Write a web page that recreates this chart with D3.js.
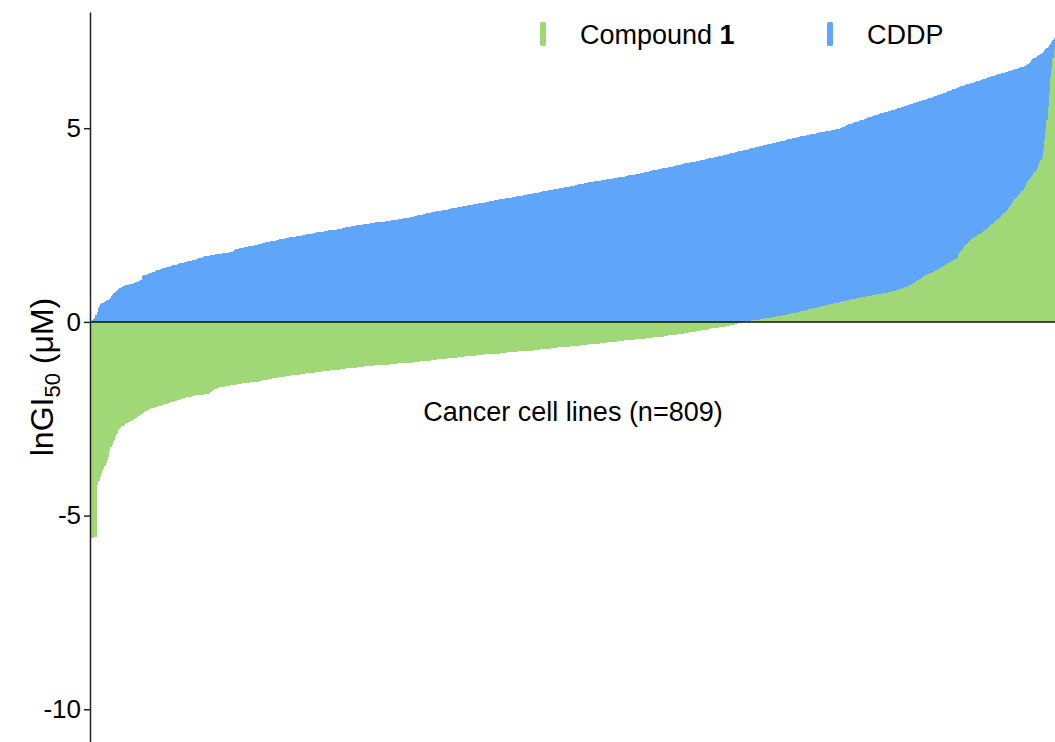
<!DOCTYPE html>
<html>
<head>
<meta charset="utf-8">
<script src="https://cdn.jsdelivr.net/npm/d3@7"></script>
<style>
  html, body { margin: 0; padding: 0; background: #ffffff; }
  svg { display: block; font-family: "Liberation Sans", Arial, Helvetica, sans-serif; }
</style>
</head>
<body>
<svg id="chart" width="1055" height="742"></svg>
<script>
// lnGI50 values (µM) across 809 cancer cell lines, each series sorted ascending
const cddpValues = [
  0.02, 0.03, 0.05, 0.07, 0.11, 0.18, 0.26, 0.35, 0.42, 0.46,
  0.48, 0.50, 0.52, 0.54, 0.55, 0.57, 0.59, 0.62, 0.66, 0.70,
  0.74, 0.77, 0.80, 0.83, 0.86, 0.88, 0.90, 0.91, 0.92, 0.93,
  0.94, 0.95, 0.96, 0.97, 0.98, 0.99, 1.00, 1.01, 1.02, 1.03,
  1.04, 1.05, 1.07, 1.08, 1.18, 1.20, 1.21, 1.22, 1.23, 1.24,
  1.25, 1.27, 1.28, 1.29, 1.30, 1.31, 1.33, 1.34, 1.35, 1.36,
  1.37, 1.38, 1.39, 1.40, 1.41, 1.42, 1.43, 1.44, 1.45, 1.46,
  1.47, 1.48, 1.48, 1.49, 1.50, 1.51, 1.51, 1.52, 1.53, 1.54,
  1.54, 1.55, 1.56, 1.56, 1.57, 1.58, 1.59, 1.60, 1.61, 1.62,
  1.63, 1.64, 1.65, 1.66, 1.67, 1.68, 1.69, 1.70, 1.70, 1.71,
  1.71, 1.72, 1.72, 1.73, 1.73, 1.74, 1.74, 1.75, 1.75, 1.76,
  1.76, 1.77, 1.77, 1.78, 1.78, 1.79, 1.79, 1.80, 1.80, 1.81,
  1.82, 1.86, 1.88, 1.89, 1.89, 1.90, 1.91, 1.91, 1.92, 1.93,
  1.93, 1.94, 1.94, 1.95, 1.95, 1.96, 1.97, 1.97, 1.98, 1.99,
  1.99, 2.00, 2.01, 2.02, 2.03, 2.03, 2.04, 2.05, 2.06, 2.07,
  2.07, 2.08, 2.08, 2.09, 2.10, 2.10, 2.11, 2.12, 2.12, 2.13,
  2.14, 2.14, 2.15, 2.15, 2.16, 2.16, 2.17, 2.18, 2.18, 2.19,
  2.19, 2.20, 2.20, 2.21, 2.21, 2.22, 2.22, 2.23, 2.24, 2.24,
  2.25, 2.26, 2.26, 2.27, 2.27, 2.28, 2.28, 2.29, 2.30, 2.30,
  2.31, 2.31, 2.32, 2.32, 2.33, 2.33, 2.34, 2.34, 2.35, 2.35,
  2.36, 2.36, 2.37, 2.37, 2.37, 2.38, 2.38, 2.39, 2.39, 2.40,
  2.41, 2.42, 2.43, 2.43, 2.44, 2.45, 2.45, 2.46, 2.46, 2.47,
  2.47, 2.48, 2.48, 2.49, 2.49, 2.50, 2.50, 2.51, 2.51, 2.52,
  2.52, 2.53, 2.53, 2.54, 2.54, 2.55, 2.55, 2.56, 2.56, 2.57,
  2.57, 2.57, 2.58, 2.58, 2.58, 2.59, 2.59, 2.60, 2.60, 2.60,
  2.61, 2.61, 2.62, 2.62, 2.63, 2.63, 2.64, 2.64, 2.65, 2.65,
  2.66, 2.66, 2.67, 2.67, 2.68, 2.68, 2.69, 2.69, 2.70, 2.70,
  2.71, 2.72, 2.73, 2.74, 2.75, 2.75, 2.76, 2.77, 2.77, 2.78,
  2.79, 2.79, 2.80, 2.81, 2.81, 2.82, 2.83, 2.84, 2.84, 2.85,
  2.85, 2.86, 2.86, 2.87, 2.87, 2.88, 2.88, 2.89, 2.89, 2.90,
  2.91, 2.91, 2.92, 2.93, 2.93, 2.94, 2.94, 2.95, 2.96, 2.96,
  2.97, 2.97, 2.98, 2.99, 2.99, 3.00, 3.01, 3.01, 3.02, 3.03,
  3.03, 3.04, 3.04, 3.05, 3.05, 3.06, 3.06, 3.07, 3.07, 3.08,
  3.08, 3.09, 3.09, 3.10, 3.11, 3.11, 3.12, 3.12, 3.13, 3.14,
  3.14, 3.15, 3.15, 3.16, 3.16, 3.17, 3.18, 3.18, 3.19, 3.19,
  3.20, 3.20, 3.21, 3.21, 3.22, 3.22, 3.23, 3.24, 3.24, 3.25,
  3.25, 3.26, 3.26, 3.27, 3.27, 3.28, 3.29, 3.29, 3.30, 3.31,
  3.31, 3.32, 3.33, 3.33, 3.34, 3.34, 3.35, 3.36, 3.36, 3.37,
  3.37, 3.38, 3.38, 3.39, 3.40, 3.40, 3.41, 3.41, 3.42, 3.43,
  3.43, 3.44, 3.44, 3.45, 3.45, 3.46, 3.46, 3.47, 3.47, 3.48,
  3.49, 3.49, 3.50, 3.51, 3.51, 3.52, 3.53, 3.53, 3.54, 3.55,
  3.55, 3.56, 3.57, 3.57, 3.58, 3.59, 3.59, 3.60, 3.61, 3.61,
  3.62, 3.62, 3.63, 3.63, 3.64, 3.64, 3.65, 3.65, 3.66, 3.66,
  3.67, 3.67, 3.68, 3.68, 3.69, 3.69, 3.70, 3.70, 3.71, 3.71,
  3.72, 3.72, 3.73, 3.73, 3.74, 3.74, 3.75, 3.75, 3.76, 3.77,
  3.77, 3.78, 3.78, 3.79, 3.79, 3.80, 3.80, 3.81, 3.82, 3.82,
  3.83, 3.84, 3.84, 3.85, 3.86, 3.87, 3.87, 3.88, 3.89, 3.89,
  3.90, 3.91, 3.91, 3.92, 3.93, 3.93, 3.94, 3.95, 3.95, 3.96,
  3.96, 3.97, 3.98, 3.98, 3.99, 4.00, 4.00, 4.01, 4.02, 4.03,
  4.03, 4.04, 4.05, 4.05, 4.06, 4.07, 4.07, 4.08, 4.09, 4.09,
  4.10, 4.10, 4.11, 4.12, 4.12, 4.13, 4.14, 4.14, 4.15, 4.16,
  4.16, 4.17, 4.18, 4.18, 4.19, 4.20, 4.20, 4.21, 4.22, 4.22,
  4.23, 4.23, 4.24, 4.25, 4.25, 4.26, 4.27, 4.27, 4.28, 4.29,
  4.30, 4.31, 4.31, 4.32, 4.33, 4.34, 4.35, 4.35, 4.36, 4.37,
  4.38, 4.39, 4.39, 4.40, 4.41, 4.42, 4.42, 4.43, 4.44, 4.45,
  4.45, 4.46, 4.47, 4.48, 4.48, 4.49, 4.50, 4.51, 4.51, 4.52,
  4.53, 4.54, 4.54, 4.55, 4.56, 4.57, 4.57, 4.58, 4.59, 4.60,
  4.60, 4.61, 4.62, 4.62, 4.63, 4.64, 4.65, 4.65, 4.66, 4.67,
  4.68, 4.68, 4.69, 4.70, 4.71, 4.71, 4.72, 4.73, 4.74, 4.74,
  4.75, 4.76, 4.77, 4.77, 4.78, 4.79, 4.79, 4.80, 4.81, 4.81,
  4.82, 4.83, 4.83, 4.84, 4.84, 4.85, 4.86, 4.86, 4.87, 4.87,
  4.88, 4.89, 4.89, 4.90, 4.90, 4.91, 4.92, 4.92, 4.93, 4.94,
  4.94, 4.95, 4.96, 4.96, 4.97, 4.98, 4.98, 4.99, 5.00, 5.01,
  5.02, 5.04, 5.05, 5.07, 5.08, 5.10, 5.11, 5.12, 5.13, 5.14,
  5.15, 5.16, 5.17, 5.18, 5.19, 5.20, 5.21, 5.22, 5.23, 5.25,
  5.26, 5.27, 5.28, 5.29, 5.30, 5.31, 5.32, 5.33, 5.34, 5.35,
  5.36, 5.37, 5.38, 5.39, 5.40, 5.41, 5.42, 5.43, 5.44, 5.44,
  5.45, 5.46, 5.47, 5.48, 5.49, 5.50, 5.51, 5.52, 5.53, 5.54,
  5.55, 5.56, 5.57, 5.58, 5.59, 5.60, 5.61, 5.62, 5.63, 5.64,
  5.65, 5.66, 5.67, 5.68, 5.69, 5.70, 5.71, 5.72, 5.73, 5.74,
  5.75, 5.76, 5.77, 5.78, 5.79, 5.80, 5.81, 5.82, 5.83, 5.85,
  5.86, 5.87, 5.88, 5.89, 5.90, 5.91, 5.92, 5.94, 5.95, 5.96,
  5.97, 5.98, 6.00, 6.01, 6.02, 6.03, 6.04, 6.06, 6.07, 6.08,
  6.09, 6.10, 6.11, 6.12, 6.13, 6.14, 6.15, 6.16, 6.17, 6.18,
  6.19, 6.20, 6.21, 6.22, 6.23, 6.24, 6.25, 6.26, 6.27, 6.28,
  6.29, 6.30, 6.31, 6.32, 6.33, 6.34, 6.35, 6.36, 6.37, 6.38,
  6.39, 6.40, 6.41, 6.42, 6.43, 6.43, 6.44, 6.45, 6.46, 6.47,
  6.48, 6.49, 6.50, 6.51, 6.52, 6.53, 6.54, 6.55, 6.56, 6.57,
  6.58, 6.59, 6.60, 6.61, 6.62, 6.66, 6.69, 6.72, 6.75, 6.78,
  6.80, 6.82, 6.84, 6.86, 6.88, 6.90, 6.92, 6.95, 6.98, 7.01,
  7.04, 7.07, 7.10, 7.14, 7.18, 7.22, 7.27, 7.32, 7.36
];

const compound1Values = [
  -5.58, -5.57, -5.57, -5.56, -5.56, -5.55, -4.21, -4.12, -4.00, -3.92,
  -3.85, -3.79, -3.72, -3.64, -3.57, -3.50, -3.34, -3.24, -3.18, -3.10,
  -3.04, -2.98, -2.90, -2.80, -2.76, -2.73, -2.70, -2.68, -2.66, -2.64,
  -2.62, -2.60, -2.58, -2.57, -2.55, -2.54, -2.52, -2.50, -2.48, -2.46,
  -2.44, -2.42, -2.40, -2.38, -2.35, -2.33, -2.31, -2.29, -2.28, -2.26,
  -2.24, -2.22, -2.21, -2.21, -2.20, -2.20, -2.19, -2.18, -2.17, -2.16,
  -2.15, -2.14, -2.13, -2.12, -2.11, -2.10, -2.09, -2.08, -2.07, -2.06,
  -2.05, -2.04, -2.03, -2.02, -2.01, -2.00, -1.99, -1.98, -1.97, -1.96,
  -1.95, -1.95, -1.94, -1.94, -1.93, -1.92, -1.92, -1.91, -1.90, -1.90,
  -1.89, -1.89, -1.88, -1.88, -1.88, -1.87, -1.87, -1.86, -1.86, -1.85,
  -1.82, -1.80, -1.78, -1.76, -1.74, -1.72, -1.71, -1.70, -1.69, -1.68,
  -1.68, -1.67, -1.67, -1.66, -1.66, -1.65, -1.65, -1.64, -1.64, -1.63,
  -1.63, -1.62, -1.62, -1.61, -1.61, -1.60, -1.60, -1.59, -1.59, -1.58,
  -1.58, -1.58, -1.57, -1.57, -1.56, -1.56, -1.56, -1.55, -1.55, -1.54,
  -1.54, -1.53, -1.53, -1.52, -1.51, -1.51, -1.50, -1.49, -1.49, -1.48,
  -1.47, -1.47, -1.46, -1.45, -1.45, -1.44, -1.44, -1.43, -1.43, -1.42,
  -1.42, -1.41, -1.41, -1.40, -1.40, -1.40, -1.39, -1.39, -1.38, -1.38,
  -1.38, -1.37, -1.37, -1.36, -1.36, -1.36, -1.35, -1.35, -1.34, -1.34,
  -1.34, -1.33, -1.33, -1.32, -1.32, -1.32, -1.31, -1.31, -1.30, -1.30,
  -1.30, -1.29, -1.29, -1.29, -1.28, -1.28, -1.27, -1.27, -1.27, -1.26,
  -1.26, -1.25, -1.25, -1.25, -1.24, -1.24, -1.23, -1.23, -1.23, -1.22,
  -1.22, -1.22, -1.21, -1.21, -1.20, -1.20, -1.20, -1.19, -1.19, -1.19,
  -1.18, -1.18, -1.18, -1.17, -1.17, -1.17, -1.16, -1.16, -1.16, -1.15,
  -1.15, -1.15, -1.14, -1.14, -1.14, -1.13, -1.13, -1.13, -1.12, -1.12,
  -1.12, -1.12, -1.11, -1.11, -1.11, -1.10, -1.10, -1.10, -1.10, -1.10,
  -1.10, -1.09, -1.09, -1.09, -1.08, -1.08, -1.08, -1.08, -1.07, -1.07,
  -1.07, -1.07, -1.06, -1.06, -1.06, -1.06, -1.05, -1.05, -1.05, -1.05,
  -1.04, -1.04, -1.04, -1.03, -1.03, -1.03, -1.02, -1.02, -1.02, -1.01,
  -1.01, -1.01, -1.00, -1.00, -1.00, -0.99, -0.99, -0.98, -0.98, -0.98,
  -0.97, -0.97, -0.97, -0.96, -0.96, -0.96, -0.95, -0.95, -0.95, -0.94,
  -0.94, -0.94, -0.93, -0.93, -0.93, -0.92, -0.92, -0.92, -0.91, -0.91,
  -0.91, -0.90, -0.90, -0.90, -0.89, -0.89, -0.89, -0.88, -0.88, -0.88,
  -0.87, -0.87, -0.87, -0.86, -0.86, -0.86, -0.85, -0.85, -0.85, -0.85,
  -0.84, -0.84, -0.84, -0.84, -0.83, -0.83, -0.83, -0.83, -0.82, -0.82,
  -0.82, -0.82, -0.82, -0.81, -0.81, -0.81, -0.80, -0.80, -0.80, -0.79,
  -0.79, -0.79, -0.78, -0.78, -0.78, -0.77, -0.77, -0.77, -0.76, -0.76,
  -0.76, -0.75, -0.75, -0.75, -0.75, -0.74, -0.74, -0.74, -0.74, -0.74,
  -0.74, -0.73, -0.73, -0.73, -0.72, -0.72, -0.72, -0.71, -0.71, -0.71,
  -0.70, -0.70, -0.70, -0.69, -0.69, -0.69, -0.68, -0.68, -0.68, -0.67,
  -0.67, -0.67, -0.66, -0.66, -0.66, -0.66, -0.65, -0.65, -0.65, -0.64,
  -0.64, -0.64, -0.63, -0.63, -0.63, -0.62, -0.62, -0.62, -0.61, -0.61,
  -0.61, -0.60, -0.60, -0.60, -0.59, -0.59, -0.59, -0.58, -0.58, -0.58,
  -0.58, -0.57, -0.57, -0.57, -0.56, -0.56, -0.56, -0.55, -0.55, -0.55,
  -0.54, -0.54, -0.54, -0.53, -0.53, -0.52, -0.52, -0.52, -0.51, -0.51,
  -0.51, -0.50, -0.50, -0.50, -0.49, -0.49, -0.49, -0.48, -0.48, -0.48,
  -0.47, -0.47, -0.47, -0.46, -0.46, -0.46, -0.45, -0.45, -0.45, -0.44,
  -0.44, -0.44, -0.43, -0.43, -0.43, -0.42, -0.42, -0.42, -0.41, -0.41,
  -0.41, -0.40, -0.40, -0.40, -0.39, -0.39, -0.39, -0.38, -0.38, -0.38,
  -0.37, -0.37, -0.36, -0.36, -0.35, -0.35, -0.35, -0.34, -0.34, -0.33,
  -0.33, -0.32, -0.32, -0.31, -0.31, -0.30, -0.30, -0.29, -0.29, -0.28,
  -0.28, -0.27, -0.27, -0.26, -0.26, -0.25, -0.25, -0.24, -0.24, -0.23,
  -0.23, -0.22, -0.22, -0.21, -0.21, -0.20, -0.20, -0.19, -0.18, -0.18,
  -0.17, -0.17, -0.16, -0.16, -0.15, -0.15, -0.14, -0.14, -0.13, -0.13,
  -0.12, -0.12, -0.11, -0.11, -0.10, -0.10, -0.09, -0.09, -0.08, -0.07,
  -0.06, -0.05, -0.04, -0.03, -0.02, -0.01, 0.01, 0.01, 0.02, 0.02,
  0.02, 0.03, 0.03, 0.03, 0.04, 0.04, 0.04, 0.05, 0.05, 0.06,
  0.06, 0.07, 0.07, 0.08, 0.08, 0.09, 0.09, 0.10, 0.10, 0.11,
  0.11, 0.12, 0.12, 0.13, 0.13, 0.14, 0.14, 0.15, 0.16, 0.16,
  0.17, 0.18, 0.18, 0.19, 0.20, 0.20, 0.21, 0.22, 0.22, 0.23,
  0.24, 0.24, 0.25, 0.26, 0.26, 0.27, 0.28, 0.28, 0.29, 0.30,
  0.31, 0.32, 0.32, 0.33, 0.34, 0.35, 0.35, 0.36, 0.37, 0.38,
  0.38, 0.39, 0.40, 0.41, 0.41, 0.42, 0.43, 0.44, 0.44, 0.45,
  0.46, 0.47, 0.47, 0.48, 0.49, 0.50, 0.50, 0.51, 0.52, 0.53,
  0.53, 0.54, 0.55, 0.55, 0.56, 0.57, 0.57, 0.58, 0.59, 0.59,
  0.60, 0.60, 0.61, 0.62, 0.62, 0.63, 0.63, 0.64, 0.64, 0.65,
  0.66, 0.66, 0.67, 0.67, 0.68, 0.69, 0.70, 0.70, 0.71, 0.71,
  0.72, 0.72, 0.73, 0.73, 0.74, 0.74, 0.75, 0.75, 0.76, 0.77,
  0.78, 0.78, 0.79, 0.80, 0.81, 0.82, 0.83, 0.84, 0.85, 0.86,
  0.87, 0.88, 0.89, 0.90, 0.91, 0.93, 0.94, 0.96, 0.98, 1.00,
  1.02, 1.04, 1.06, 1.08, 1.10, 1.12, 1.14, 1.16, 1.18, 1.20,
  1.21, 1.23, 1.24, 1.26, 1.27, 1.29, 1.30, 1.32, 1.33, 1.35,
  1.36, 1.38, 1.40, 1.42, 1.44, 1.46, 1.47, 1.49, 1.51, 1.52,
  1.54, 1.56, 1.58, 1.60, 1.62, 1.63, 1.65, 1.74, 1.80, 1.84,
  1.88, 1.92, 1.96, 1.99, 2.02, 2.05, 2.08, 2.11, 2.14, 2.16,
  2.18, 2.20, 2.22, 2.24, 2.26, 2.28, 2.29, 2.31, 2.34, 2.37,
  2.40, 2.43, 2.46, 2.48, 2.51, 2.53, 2.56, 2.58, 2.61, 2.64,
  2.66, 2.69, 2.72, 2.75, 2.78, 2.81, 2.83, 2.86, 2.89, 2.95,
  3.00, 3.05, 3.10, 3.14, 3.17, 3.20, 3.24, 3.27, 3.31, 3.34,
  3.38, 3.41, 3.45, 3.52, 3.58, 3.64, 3.69, 3.72, 3.76, 3.80,
  3.84, 3.88, 3.92, 3.98, 4.05, 4.12, 4.18, 4.25, 4.45, 4.70,
  4.95, 5.21, 5.56, 5.90, 6.33, 6.52, 6.80, 7.02, 7.12
];

const yTickValues = [-10, -5, 0, 5];
const seriesNames = ["Compound", "CDDP"];
const seriesColors = ["#a0d777", "#5fa5fa"];
const xAxisCaption = "Cancer cell lines (n=809)";

const svg = d3.select("#chart");
const font = "'Liberation Sans', Arial, Helvetica, sans-serif";

const x = d3.scaleBand()
  .domain(d3.range(cddpValues.length))
  .range([89.5, 1056])
  .padding(0);

const y = d3.scaleLinear()
  .domain([-11, 8])
  .range([748, 12]);

const bw = x.bandwidth();

// CDDP bars (behind)
svg.append("g")
  .attr("shape-rendering", "crispEdges")
  .selectAll("rect")
  .data(cddpValues)
  .join("rect")
  .attr("x", (d, i) => x(i))
  .attr("width", bw + 0.6)
  .attr("y", d => y(Math.max(0, d)))
  .attr("height", d => Math.abs(y(d) - y(0)))
  .attr("fill", seriesColors[1]);

// Compound 1 bars (front)
svg.append("g")
  .attr("shape-rendering", "crispEdges")
  .selectAll("rect")
  .data(compound1Values)
  .join("rect")
  .attr("x", (d, i) => x(i))
  .attr("width", bw + 0.6)
  .attr("y", d => y(Math.max(0, d)))
  .attr("height", d => Math.abs(y(d) - y(0)))
  .attr("fill", seriesColors[0]);

// zero baseline
svg.append("line")
  .attr("x1", 90).attr("x2", 1055)
  .attr("y1", y(0)).attr("y2", y(0))
  .attr("stroke", "#111")
  .attr("stroke-width", 1.5);

// y axis
const yAxis = d3.axisLeft(y)
  .tickValues(yTickValues)
  .tickFormat(d => String(d))
  .tickSize(6)
  .tickSizeOuter(0)
  .tickPadding(3);

const gy = svg.append("g")
  .attr("transform", "translate(90,0)")
  .call(yAxis);
gy.select(".domain").attr("stroke", "#222").attr("stroke-width", 1.5);
gy.selectAll(".tick line").attr("stroke", "#222").attr("stroke-width", 1.5);
gy.selectAll(".tick text")
  .attr("font-family", font)
  .attr("font-size", 26)
  .attr("fill", "#000");

// y axis title: lnGI50 (µM)
const yTitle = svg.append("text")
  .attr("transform", "translate(53,377) rotate(-90)")
  .attr("text-anchor", "middle")
  .attr("font-family", font)
  .attr("font-size", 32)
  .attr("fill", "#000");
yTitle.append("tspan").text("lnGI");
yTitle.append("tspan").attr("font-size", 22).attr("dy", 7).text("50");
yTitle.append("tspan").attr("dy", -7).text(" (\u03BCM)");

// caption inside plot
svg.append("text")
  .attr("x", 573)
  .attr("y", 421)
  .attr("text-anchor", "middle")
  .attr("font-family", font)
  .attr("font-size", 27)
  .attr("fill", "#000")
  .text(xAxisCaption);

// legend
const legend = svg.append("g");
const legendItems = [
  { name: seriesNames[0], bold: "1", color: seriesColors[0], sx: 540, tx: 580 },
  { name: seriesNames[1], bold: null, color: seriesColors[1], sx: 827, tx: 867 }
];
legendItems.forEach(it => {
  legend.append("rect")
    .attr("x", it.sx).attr("y", 22)
    .attr("width", 6).attr("height", 24)
    .attr("rx", 1.5)
    .attr("fill", it.color);
  const t = legend.append("text")
    .attr("x", it.tx).attr("y", 44)
    .attr("font-family", font)
    .attr("font-size", 27)
    .attr("fill", "#000");
  t.append("tspan").text(it.name);
  if (it.bold) t.append("tspan").attr("font-weight", "bold").text(" " + it.bold);
});
</script>
</body>
</html>
